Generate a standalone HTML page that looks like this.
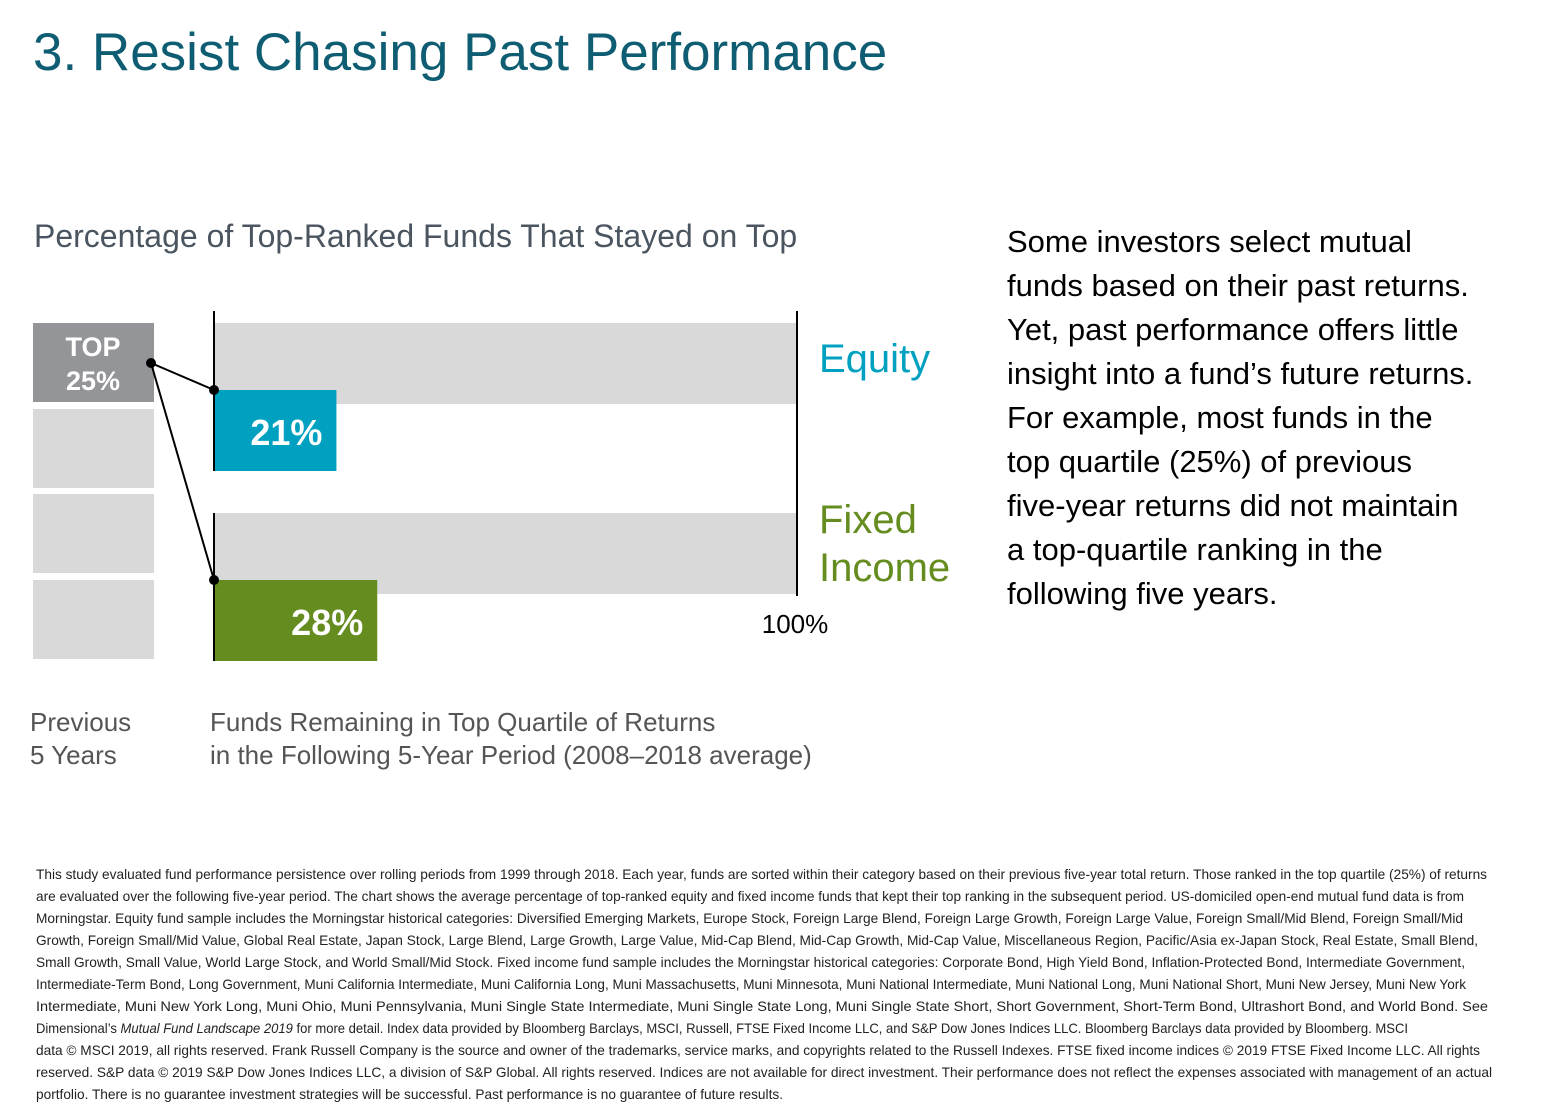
<!DOCTYPE html>
<html><head><meta charset="utf-8"><style>
html,body{margin:0;padding:0;background:#fff;}
svg{display:block;font-family:"Liberation Sans",Arial,sans-serif;}
</style></head><body>
<svg id="chart" width="1544" height="1115" viewBox="0 0 1544 1115">
<text x="33" y="70" font-size="53" fill="#0e5d72">3. Resist Chasing Past Performance</text>
<text x="34" y="247" font-size="32" fill="#4a5560">Percentage of Top-Ranked Funds That Stayed on Top</text>
<g id="quartiles"></g>
<g id="bars"></g>
<line x1="797" y1="311" x2="797" y2="596" stroke="#000" stroke-width="2"/>
<text x="795" y="633" font-size="26" text-anchor="middle" fill="#000">100%</text>
<text x="819" y="372" font-size="40" fill="#00a0c0">Equity</text>
<text x="819" y="533" font-size="40" fill="#648c1e"><tspan x="819">Fixed</tspan><tspan x="819" dy="48">Income</tspan></text>
<text x="30" y="731" font-size="26" fill="#555"><tspan x="30">Previous</tspan><tspan x="30" dy="33">5 Years</tspan></text>
<text x="210" y="731" font-size="26" fill="#555"><tspan x="210">Funds Remaining in Top Quartile of Returns</tspan><tspan x="210" dy="33">in the Following 5-Year Period (2008–2018 average)</tspan></text>
<text x="1007" y="252" font-size="31" fill="#000">
<tspan x="1007">Some investors select mutual</tspan>
<tspan x="1007" dy="44">funds based on their past returns.</tspan>
<tspan x="1007" dy="44">Yet, past performance offers little</tspan>
<tspan x="1007" dy="44">insight into a fund’s future returns.</tspan>
<tspan x="1007" dy="44">For example, most funds in the</tspan>
<tspan x="1007" dy="44">top quartile (25%) of previous</tspan>
<tspan x="1007" dy="44">five-year returns did not maintain</tspan>
<tspan x="1007" dy="44">a top-quartile ranking in the</tspan>
<tspan x="1007" dy="44">following five years.</tspan>
</text>
<g font-size="14" fill="#222">
<text x="36" y="879" textLength="1451" lengthAdjust="spacingAndGlyphs">This study evaluated fund performance persistence over rolling periods from 1999 through 2018. Each year, funds are sorted within their category based on their previous five-year total return. Those ranked in the top quartile (25%) of returns</text>
<text x="36" y="901" textLength="1428" lengthAdjust="spacingAndGlyphs">are evaluated over the following five-year period. The chart shows the average percentage of top-ranked equity and fixed income funds that kept their top ranking in the subsequent period. US-domiciled open-end mutual fund data is from</text>
<text x="36" y="923" textLength="1427" lengthAdjust="spacingAndGlyphs">Morningstar. Equity fund sample includes the Morningstar historical categories: Diversified Emerging Markets, Europe Stock, Foreign Large Blend, Foreign Large Growth, Foreign Large Value, Foreign Small/Mid Blend, Foreign Small/Mid</text>
<text x="36" y="945" textLength="1442" lengthAdjust="spacingAndGlyphs">Growth, Foreign Small/Mid Value, Global Real Estate, Japan Stock, Large Blend, Large Growth, Large Value, Mid-Cap Blend, Mid-Cap Growth, Mid-Cap Value, Miscellaneous Region, Pacific/Asia ex-Japan Stock, Real Estate, Small Blend,</text>
<text x="36" y="967" textLength="1429" lengthAdjust="spacingAndGlyphs">Small Growth, Small Value, World Large Stock, and World Small/Mid Stock. Fixed income fund sample includes the Morningstar historical categories: Corporate Bond, High Yield Bond, Inflation-Protected Bond, Intermediate Government,</text>
<text x="36" y="989" textLength="1430" lengthAdjust="spacingAndGlyphs">Intermediate-Term Bond, Long Government, Muni California Intermediate, Muni California Long, Muni Massachusetts, Muni Minnesota, Muni National Intermediate, Muni National Long, Muni National Short, Muni New Jersey, Muni New York</text>
<text x="36" y="1011" textLength="1452" lengthAdjust="spacingAndGlyphs">Intermediate, Muni New York Long, Muni Ohio, Muni Pennsylvania, Muni Single State Intermediate, Muni Single State Long, Muni Single State Short, Short Government, Short-Term Bond, Ultrashort Bond, and World Bond. See</text>
<text x="36" y="1033" textLength="1372" lengthAdjust="spacingAndGlyphs">Dimensional’s <tspan font-style="italic">Mutual Fund Landscape 2019</tspan> for more detail. Index data provided by Bloomberg Barclays, MSCI, Russell, FTSE Fixed Income LLC, and S&amp;P Dow Jones Indices LLC. Bloomberg Barclays data provided by Bloomberg. MSCI</text>
<text x="36" y="1055" textLength="1444" lengthAdjust="spacingAndGlyphs">data © MSCI 2019, all rights reserved. Frank Russell Company is the source and owner of the trademarks, service marks, and copyrights related to the Russell Indexes. FTSE fixed income indices © 2019 FTSE Fixed Income LLC. All rights</text>
<text x="36" y="1077" textLength="1456" lengthAdjust="spacingAndGlyphs">reserved. S&amp;P data © 2019 S&amp;P Dow Jones Indices LLC, a division of S&amp;P Global. All rights reserved. Indices are not available for direct investment. Their performance does not reflect the expenses associated with management of an actual</text>
<text x="36" y="1099" textLength="747" lengthAdjust="spacingAndGlyphs">portfolio. There is no guarantee investment strategies will be successful. Past performance is no guarantee of future results.</text>
</g>
</svg>
<script>
const categories = ["Equity", "Fixed Income"];
const values = [21, 28];
const valueLabels = ["21%", "28%"];
const colors = ["#00a0c0", "#648c1e"];
const NS = "http://www.w3.org/2000/svg";
const x0 = 214, x100 = 797;
const xScale = v => x0 + (x100 - x0) * v / 100;
const rowTop = [323, 513];
const bars = document.getElementById("bars");
const q = document.getElementById("quartiles");
function mk(tag, attrs, parent) {
  const e = document.createElementNS(NS, tag);
  for (const k in attrs) e.setAttribute(k, attrs[k]);
  parent.appendChild(e);
  return e;
}
// quartile boxes
const boxY = [323, 409, 494, 580];
boxY.forEach((y, i) => {
  const r = mk("rect", {x: 33, y: y, width: 121, height: 79, fill: i === 0 ? "#939598" : "#d9d9d9"}, q);
  
  
});
const t = mk("text", {x: 93, y: 356, "font-size": 27, "font-weight": "bold", fill: "#fff", "text-anchor": "middle"}, q);


t.innerHTML = '<tspan x="93">TOP</tspan><tspan x="93" dy="34">25%</tspan>';
categories.forEach((c, i) => {
  const top = rowTop[i];
  const bg = mk("rect", {x: x0, y: top, width: xScale(100) - x0, height: 81, fill: "#d9d9d9"}, bars);
  
  
  const b = mk("rect", {x: x0, y: top + 67, width: xScale(values[i]) - x0, height: 81, fill: colors[i]}, bars);
  
  
  const ax = mk("line", {x1: x0, y1: top - (i === 0 ? 12 : 0), x2: x0, y2: top + 148, stroke: "#000", "stroke-width": 2}, bars);
  
  
  const lbl = mk("text", {x: xScale(values[i]) - 14, y: top + 122, "font-size": 36, "font-weight": "bold", fill: "#fff", "text-anchor": "end"}, bars);
  
  
  lbl.textContent = valueLabels[i];
  const ln = mk("line", {x1: 151, y1: 363, x2: x0, y2: top + 67, stroke: "#000", "stroke-width": 2}, bars);
  
  
  const d = mk("circle", {cx: x0, cy: top + 67, r: 5, fill: "#000"}, bars);
  
  
});
const d0 = mk("circle", {cx: 151, cy: 363, r: 5, fill: "#000"}, bars);


</script>
</body></html>
